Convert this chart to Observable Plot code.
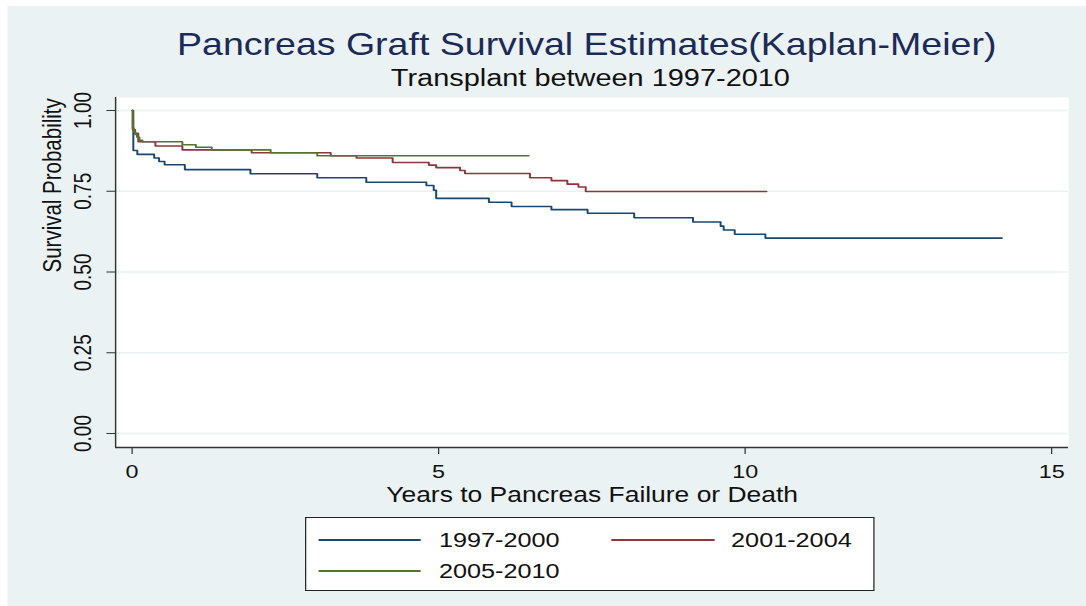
<!DOCTYPE html>
<html><head><meta charset="utf-8">
<script src="https://cdn.jsdelivr.net/npm/d3@7"></script>
<script src="https://cdn.jsdelivr.net/npm/@observablehq/plot@0.6"></script>
<style>
html,body{margin:0;padding:0;background:#fff;width:1086px;height:606px;overflow:hidden;}
#wrap{position:absolute;left:0;top:0;width:883px;height:606px;transform:scaleX(1.23);transform-origin:0 0;font-family:"Liberation Sans",Arial,sans-serif;}
#bg{position:absolute;left:5.7px;top:6px;right:0;bottom:0;background:#eaf2f3;}
.t{position:absolute;white-space:nowrap;transform:translateX(-50%);line-height:normal;}
#title{left:477px;top:27.4px;font-size:30.5px;color:#1c2a57;}
#sub{left:480px;top:64.7px;font-size:23.5px;color:#111;}
#chart{position:absolute;left:0;top:90px;}
#legend{position:absolute;left:248.4px;top:517px;width:463px;height:74px;border:1px solid #222;background:#fff;box-sizing:border-box;}
.sw{position:absolute;height:1.3px;}
.lb{position:absolute;font-size:20.5px;color:#111;white-space:nowrap;transform:translateY(-50%);line-height:normal;}
</style></head>
<body>
<div id="wrap">
  <div id="bg"></div>
  <div id="title" class="t">Pancreas Graft Survival Estimates(Kaplan-Meier)</div>
  <div id="sub" class="t">Transplant between 1997-2010</div>
  <div id="chart"></div>
  <div id="legend"></div>
</div>
<script>
// ---- data ----
const groups = ["1997-2000", "2001-2004", "2005-2010"];
const colors = ["#1a476f", "#90353b", "#55752f"];

const years9700 = [0, 0.02, 0.085, 0.36, 0.44, 0.53, 0.86, 1.93, 3.02, 3.82, 4.80, 4.92, 4.96, 5.82, 6.19, 6.84, 7.43, 8.19, 9.15, 9.60, 9.65, 9.83, 10.33, 14.19];
const surv9700  = [1.0, 0.876, 0.864, 0.853, 0.842, 0.832, 0.817, 0.804, 0.792, 0.778, 0.768, 0.753, 0.728, 0.716, 0.703, 0.693, 0.682, 0.668, 0.655, 0.642, 0.630, 0.617, 0.605, 0.605];

const years0104 = [0, 0.01, 0.05, 0.10, 0.38, 0.82, 1.95, 3.24, 3.66, 4.25, 4.84, 4.96, 5.35, 5.43, 6.49, 6.84, 7.10, 7.28, 7.40, 10.35];
const surv0104  = [1.0, 0.940, 0.929, 0.903, 0.890, 0.878, 0.869, 0.860, 0.853, 0.839, 0.831, 0.823, 0.814, 0.805, 0.792, 0.783, 0.772, 0.763, 0.749, 0.749];

const years0510 = [0, 0.01, 0.03, 0.05, 0.08, 0.12, 0.17, 0.82, 1.04, 1.30, 2.26, 3.02, 6.47];
const surv0510  = [1.0, 0.945, 0.935, 0.926, 0.917, 0.908, 0.903, 0.894, 0.886, 0.878, 0.869, 0.860, 0.860];

const xTicks = [0, 5, 10, 15];
const yTicks = [0, 0.25, 0.5, 0.75, 1];
const xTitle = "Years to Pancreas Failure or Death";
const yTitle = "Survival Probability";

// ---- build table ----
const allYears = [years9700, years0104, years0510];
const allSurv = [surv9700, surv0104, surv0510];
const rows = groups.flatMap((g, i) => allYears[i].map((t, j) => ({group: g, t, s: allSurv[i][j]})));

// layout: padding beyond data range (frame extends past 0..15 and 0..1)
const xlo = -0.2689, xhi = 15.277;
const ylo = -0.0433, yhi = 1.0402;

const chart = Plot.plot({
  width: 883,
  height: 420,
  marginLeft: 93.5,
  marginRight: 14.7,
  marginTop: 7,
  marginBottom: 63,
  style: {background: "transparent", fontFamily: "'Liberation Sans', Arial, sans-serif", color: "#111", overflow: "visible"},
  x: {domain: [xlo, xhi]},
  y: {domain: [ylo, yhi]},
  color: {domain: groups, range: colors},
  marks: [
    Plot.frame({fill: "white", stroke: "none"}),
    Plot.ruleY(yTicks, {stroke: "#eaf2f3", strokeWidth: 1.5}),
    Plot.line(rows, {x: "t", y: "s", z: "group", stroke: "group", curve: "step-after", strokeWidth: 1.6}),
    Plot.ruleX([xlo], {stroke: "#333", strokeWidth: 1.2}),
    Plot.ruleY([ylo], {stroke: "#333", strokeWidth: 1.4}),
    Plot.axisX({ticks: xTicks, tickSize: 7, tickPadding: 10, fontSize: 19, label: null, stroke: "#333"}),
    Plot.axisY({ticks: yTicks, tickFormat: d3.format(".2f"), tickSize: 7, tickRotate: -90, tickPadding: 13, fontSize: 19, label: null, stroke: "#333"}),
    Plot.text([xTitle], {frameAnchor: "bottom", lineAnchor: "bottom", dy: 54.5, fontSize: 21.5, fill: "#111"}),
    Plot.text([yTitle], {frameAnchor: "left", lineAnchor: "middle", rotate: -90, dx: -51.3, fontSize: 20.5, fill: "#111"})
  ]
});
document.getElementById("chart").appendChild(chart);

// ---- legend ----
const legend = document.getElementById("legend");
const legPos = [
  {lx: 10, ly: 22, w: 83, tx: 107.5},
  {lx: 247.5, ly: 22, w: 84, tx: 345},
  {lx: 10, ly: 53, w: 83, tx: 107.5}
];
groups.forEach((g, i) => {
  const p = legPos[i];
  const sw = document.createElement("div");
  sw.className = "sw";
  sw.style.left = p.lx + "px";
  sw.style.top = (p.ly - 0.65) + "px";
  sw.style.width = p.w + "px";
  sw.style.background = colors[i];
  legend.appendChild(sw);
  const lb = document.createElement("div");
  lb.className = "lb";
  lb.style.left = p.tx + "px";
  lb.style.top = p.ly + "px";
  lb.textContent = g;
  legend.appendChild(lb);
});
</script>
</body></html>
